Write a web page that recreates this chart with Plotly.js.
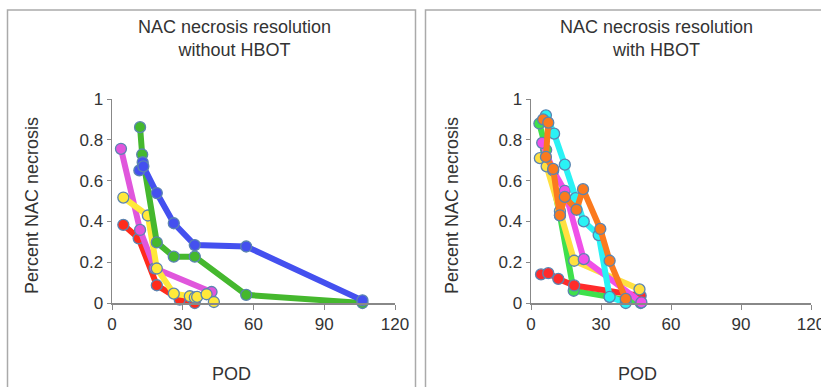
<!DOCTYPE html>
<html><head><meta charset="utf-8">
<script src="https://cdn.plot.ly/plotly-3.0.1.min.js"></script>
<style>html,body{margin:0;padding:0;background:#fff}#c{width:821px;height:387px}</style>
</head><body><div id="c"></div>
<script>
// ---- Left panel: without HBOT ----
const L_red_x = [4.8, 11.3, 19, 28.7, 35.1];
const L_red_y = [0.383, 0.317, 0.087, 0.017, 0.0];
const L_mag_x = [3.8, 11.9, 18.1, 42.2];
const L_mag_y = [0.756, 0.358, 0.17, 0.054];
const L_yel_x = [4.8, 15.2, 19, 26.2, 33, 35.1, 36.1, 40.1, 43.2];
const L_yel_y = [0.517, 0.429, 0.169, 0.046, 0.033, 0.027, 0.03, 0.043, 0.005];
const L_grn_x = [11.9, 12.8, 19, 26.2, 35.1, 56.9, 106.2];
const L_grn_y = [0.862, 0.728, 0.297, 0.227, 0.227, 0.04, 0.0];
const L_blu_x = [11.6, 13.0, 13.3, 19, 26.2, 35.1, 56.9, 106.2];
const L_blu_y = [0.65, 0.69, 0.67, 0.539, 0.391, 0.284, 0.277, 0.013];

// ---- Right panel: with HBOT ----
const R_grn_x = [3.6, 6.5, 12.4, 18.3, 33.7, 47];
const R_grn_y = [0.88, 0.75, 0.43, 0.06, 0.03, 0.0];
const R_red_x = [4.3, 7.4, 11.7, 18.5, 47];
const R_red_y = [0.14, 0.146, 0.118, 0.086, 0.035];
const R_yel_x = [3.8, 6.7, 12.4, 18.5, 46.5];
const R_yel_y = [0.71, 0.67, 0.45, 0.207, 0.067];
const R_mag_x = [4.8, 9.5, 14.5, 22.6, 47.3];
const R_mag_y = [0.785, 0.65, 0.55, 0.215, 0.003];
const R_cyn_x = [6.4, 9.9, 14.5, 19.1, 22.6, 29, 33.7, 40.6];
const R_cyn_y = [0.92, 0.83, 0.678, 0.514, 0.40, 0.333, 0.03, 0.0];
const R_org_x = [5.2, 7.4, 6.4, 9.5, 12.4, 14.5, 19.5, 22.3, 29.7, 33.7, 40.6];
const R_org_y = [0.90, 0.884, 0.716, 0.657, 0.43, 0.52, 0.457, 0.558, 0.363, 0.207, 0.02];

const xTicks = [0, 30, 60, 90, 120];
const yTicks = [0, 0.2, 0.4, 0.6, 0.8, 1];
const yTickText = ['0', '0.2', '0.4', '0.6', '0.8', '1'];
const titleL = 'NAC necrosis resolution<br>without HBOT';
const titleR = 'NAC necrosis resolution<br>with HBOT';
const yTitle = 'Percent NAC necrosis';
const xTitle = 'POD';

const W = 821, H = 387;
const MK = '#5b84b1';
function tr(x, y, color, xa, ya) {
  return {x: x, y: y, xaxis: xa, yaxis: ya, type: 'scatter', mode: 'lines+markers',
    cliponaxis: false, hoverinfo: 'skip',
    line: {color: color, width: 6},
    marker: {color: color, size: 11, line: {color: MK, width: 1.3}}};
}
const data = [
  tr(L_red_x, L_red_y, '#ff2b1c', 'x', 'y'),
  tr(L_mag_x, L_mag_y, '#e056dc', 'x', 'y'),
  tr(L_yel_x, L_yel_y, '#ffe93a', 'x', 'y'),
  tr(L_grn_x, L_grn_y, '#45b82e', 'x', 'y'),
  tr(L_blu_x, L_blu_y, '#4450ef', 'x', 'y'),
  tr(R_grn_x, R_grn_y, '#3ee04c', 'x2', 'y2'),
  tr(R_red_x, R_red_y, '#ff2b2b', 'x2', 'y2'),
  tr(R_yel_x, R_yel_y, '#ffe040', 'x2', 'y2'),
  tr(R_mag_x, R_mag_y, '#f050e8', 'x2', 'y2'),
  tr(R_cyn_x, R_cyn_y, '#2af2f5', 'x2', 'y2'),
  tr(R_org_x, R_org_y, '#fb7a1e', 'x2', 'y2')
];
const FONT = 'Liberation Sans, Arial, sans-serif';
function xax(d0, d1, anchor) {
  return {domain: [d0 / W, d1 / W], range: [0, 120], anchor: anchor, tickvals: xTicks,
    showline: true, linecolor: '#888', linewidth: 1.5, ticks: 'outside', ticklen: 5,
    tickcolor: '#888', showgrid: false, zeroline: false, fixedrange: true,
    ticklabeloverflow: 'allow',
    tickfont: {size: 17, color: '#333', family: FONT}};
}
function yax(anchor) {
  return {domain: [(H - 303) / H, (H - 99) / H], range: [0, 1], anchor: anchor,
    tickvals: yTicks, ticktext: yTickText,
    showline: true, linecolor: '#888', linewidth: 1.5, ticks: 'outside', ticklen: 4,
    tickcolor: '#888', showgrid: false, zeroline: false, fixedrange: true,
    tickfont: {size: 17, color: '#333', family: FONT}};
}
function ann(text, px, py, angle) {
  return {text: text, x: px / W, y: 1 - py / H, xref: 'paper', yref: 'paper',
    xanchor: 'center', yanchor: 'middle', showarrow: false, textangle: angle || 0,
    font: {size: 18, color: '#333', family: FONT}};
}
const layout = {
  width: W, height: H, margin: {l: 0, r: 0, t: 0, b: 0},
  paper_bgcolor: '#fff', plot_bgcolor: 'rgba(0,0,0,0)', showlegend: false,
  xaxis: xax(112, 395, 'y'), yaxis: yax('x'),
  xaxis2: xax(531, 811, 'y2'), yaxis2: yax('x2'),
  shapes: [
    {type: 'rect', xref: 'paper', yref: 'paper', x0: 7.5 / W, x1: 415.5 / W, y0: -0.2, y1: 1 - 10 / H,
      line: {color: '#aaa', width: 1.5}, layer: 'below'},
    {type: 'rect', xref: 'paper', yref: 'paper', x0: 425.5 / W, x1: 1.2, y0: -0.2, y1: 1 - 10 / H,
      line: {color: '#aaa', width: 1.5}, layer: 'below'}
  ],
  annotations: [
    ann(titleL, 234, 39), ann(titleR, 656, 39),
    ann(yTitle, 32, 206, -90), ann(yTitle, 452, 206, -90),
    ann(xTitle, 232, 374), ann(xTitle, 637, 374)
  ]
};
Plotly.newPlot('c', data, layout, {displayModeBar: false, staticPlot: true});
</script></body></html>
